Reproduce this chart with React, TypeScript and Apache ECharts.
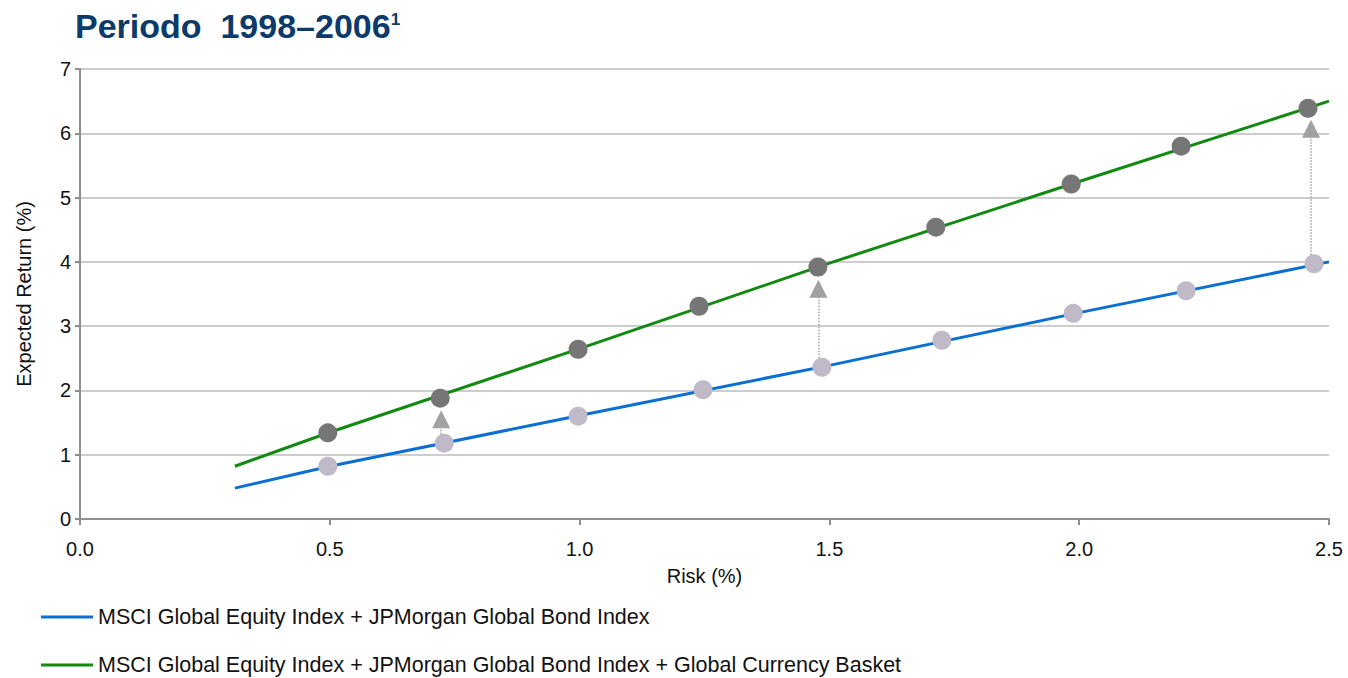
import React, { useEffect, useRef } from "react";
import * as echarts from "echarts";

// Efficient-frontier curves (risk %, expected return %)
const riskLine = [0.31, 0.5, 1.0, 1.5, 2.0, 2.5];
const equityBondLine = [0.48, 0.82, 1.61, 2.39, 3.21, 4.0];
const withCurrencyLine = [0.82, 1.35, 2.65, 3.98, 5.25, 6.5];

// Highlighted portfolios
const equityBondRisk = [0.496, 0.729, 0.997, 1.247, 1.485, 1.725, 1.988, 2.214, 2.47];
const equityBondReturn = [0.82, 1.18, 1.6, 2.01, 2.36, 2.78, 3.2, 3.55, 3.97];
const withCurrencyRisk = [0.496, 0.721, 0.997, 1.239, 1.477, 1.713, 1.984, 2.204, 2.458];
const withCurrencyReturn = [1.34, 1.88, 2.64, 3.31, 3.92, 4.54, 5.21, 5.8, 6.39];

// Improvement arrows
const arrowRisk = [0.723, 1.478, 2.464];
const arrowFrom = [1.32, 2.5, 4.11];
const arrowTo = [1.55, 3.58, 6.07];

const seriesNames = [
  "MSCI Global Equity Index + JPMorgan Global Bond Index",
  "MSCI Global Equity Index + JPMorgan Global Bond Index + Global Currency Basket",
];

const FONT = "'Liberation Sans', Arial, sans-serif";

export default function App() {
  const ref = useRef<HTMLDivElement>(null);
  useEffect(() => {
    if (!ref.current) return;
    const chart = echarts.init(ref.current, undefined, { renderer: "svg" });
    const legendBase = {
      orient: "horizontal",
      padding: 0,
      itemWidth: 52,
      itemHeight: 3,
      icon: "rect",
      textStyle: { fontSize: 21.5, color: "#111", fontFamily: FONT },
      selectedMode: false,
    };
    const option: any = {
      animation: false,
      backgroundColor: "#ffffff",
      textStyle: { fontFamily: FONT },
      title: {
        left: 70,
        top: 4,
        text: "{a|Periodo  1998–2006}{b|1}",
        textStyle: {
          rich: {
            a: { fontSize: 34, fontWeight: "bold", color: "#0c3a6b", fontFamily: FONT, verticalAlign: "bottom" },
            b: { fontSize: 17, fontWeight: "bold", color: "#0c3a6b", fontFamily: FONT, verticalAlign: "top", padding: [2, 0, 0, 0] },
          },
        },
      },
      legend: [
        { ...legendBase, left: 41, top: 606, data: [seriesNames[0]] },
        { ...legendBase, left: 41, top: 654, data: [seriesNames[1]] },
      ],
      grid: { left: 80, right: 19, top: 69, bottom: 159, containLabel: false },
      xAxis: {
        type: "value",
        min: 0,
        max: 2.5,
        interval: 0.5,
        name: "Risk (%)",
        nameLocation: "middle",
        nameGap: 47,
        nameTextStyle: { fontSize: 20, color: "#111", fontFamily: FONT },
        axisLine: { show: true, lineStyle: { color: "#8f8f8f", width: 2 } },
        axisTick: { show: true, length: 6, lineStyle: { color: "#8f8f8f", width: 2 } },
        axisLabel: { fontSize: 20, color: "#111", margin: 20, formatter: (v: number) => v.toFixed(1), fontFamily: FONT },
        splitLine: { show: false },
      },
      yAxis: {
        type: "value",
        min: 0,
        max: 7,
        interval: 1,
        name: "Expected Return (%)",
        nameLocation: "middle",
        nameGap: 46,
        nameTextStyle: { fontSize: 20, color: "#111", fontFamily: FONT },
        axisLine: { show: true, lineStyle: { color: "#8f8f8f", width: 2 } },
        axisTick: { show: true, length: 5, lineStyle: { color: "#8f8f8f", width: 2 } },
        axisLabel: { fontSize: 20, color: "#111", margin: 9, fontFamily: FONT },
        splitLine: { show: true, lineStyle: { color: "#bcbcbc", width: 1.5 } },
      },
      series: [
        {
          name: seriesNames[0],
          type: "line",
          showSymbol: false,
          data: riskLine.map((x, i) => [x, equityBondLine[i]]),
          lineStyle: { color: "#0a6fd4", width: 3 },
          itemStyle: { color: "#0a6fd4" },
          z: 2,
        },
        {
          name: seriesNames[1],
          type: "line",
          showSymbol: false,
          data: riskLine.map((x, i) => [x, withCurrencyLine[i]]),
          lineStyle: { color: "#128a12", width: 3 },
          itemStyle: { color: "#128a12" },
          z: 2,
        },
        {
          name: "arrows",
          type: "scatter",
          data: [],
          silent: true,
          z: 3,
          markLine: {
            silent: true,
            animation: false,
            symbol: ["none", "triangle"],
            symbolSize: 18,
            label: { show: false },
            lineStyle: { color: "#a2a2a2", type: "dotted", width: 1.5 },
            emphasis: { disabled: true },
            data: arrowRisk.map((x, i) => [
              { coord: [x, arrowFrom[i]] },
              { coord: [x, arrowTo[i]] },
            ]),
          },
        },
        {
          name: "pts1",
          type: "scatter",
          symbolSize: 19,
          data: equityBondRisk.map((x, i) => [x, equityBondReturn[i]]),
          itemStyle: { color: "#c0bac8", opacity: 1 },
          z: 4,
        },
        {
          name: "pts2",
          type: "scatter",
          symbolSize: 19,
          data: withCurrencyRisk.map((x, i) => [x, withCurrencyReturn[i]]),
          itemStyle: { color: "#767676", opacity: 1 },
          z: 4,
        },
      ],
    };
    chart.setOption(option);
    return () => chart.dispose();
  }, []);
  return (
    <div
      ref={ref}
      style={{ position: "fixed", left: 0, top: 0, width: 1348, height: 678, background: "#fff" }}
    />
  );
}
